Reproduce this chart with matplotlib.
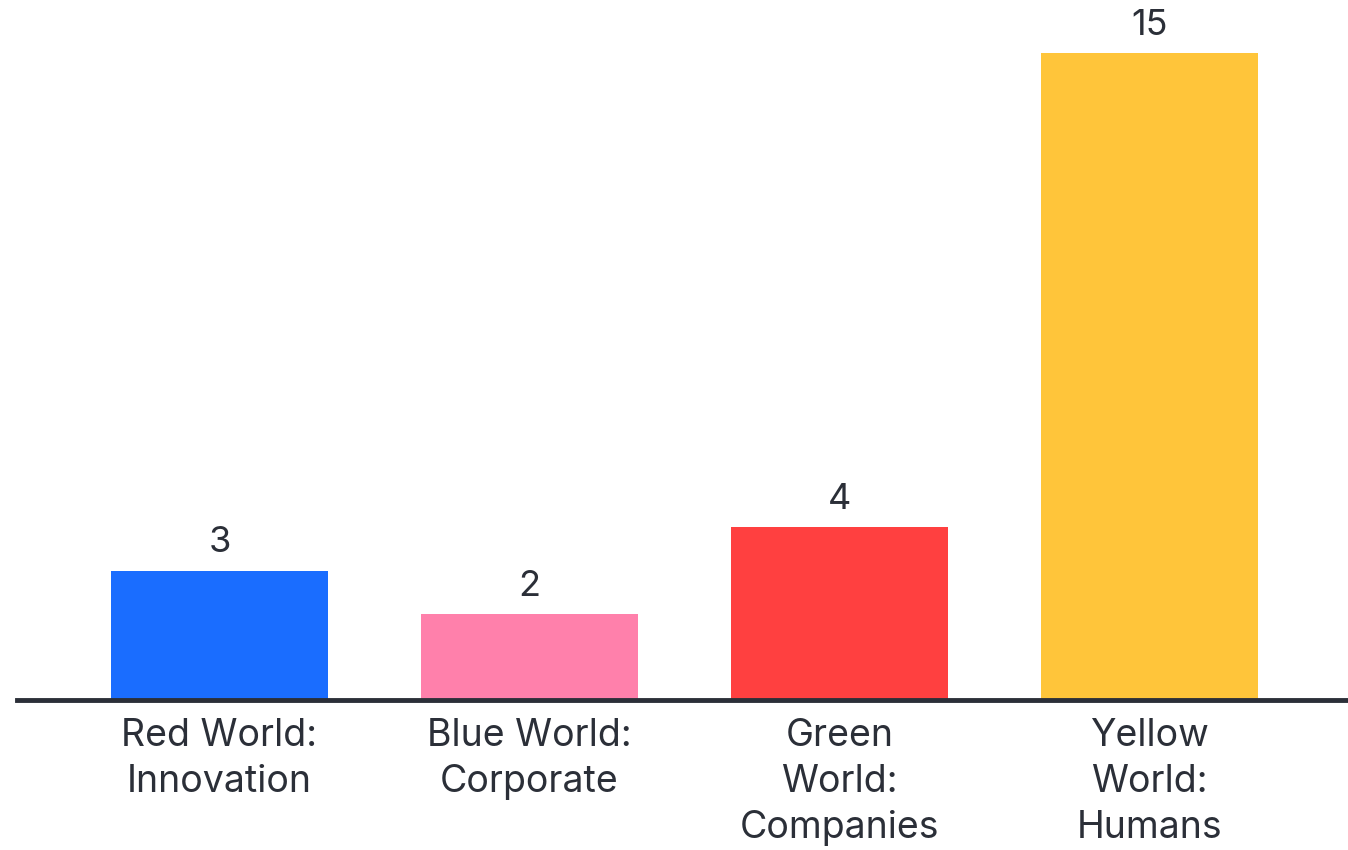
import matplotlib
matplotlib.use("Agg")
import matplotlib.pyplot as plt

categories = ["Red World:\nInnovation", "Blue World:\nCorporate", "Green\nWorld:\nCompanies", "Yellow\nWorld:\nHumans"]
values = [3, 2, 4, 15]
colors = ["#1A6DFF", "#FF80AB", "#FF4040", "#FFC53A"]

plt.rcParams['font.family'] = ['Inter', 'DejaVu Sans']
text_color = "#2B2F38"

fig = plt.figure(figsize=(13.48, 8.5), dpi=100)
ax = fig.add_axes([17/1348, 150/850, 1 - 17/1348, 700/850])
x = list(range(len(values)))
bars = ax.bar(x, values, width=0.7, color=colors)
ax.set_xlim(-0.653, 3.64)
ax.set_ylim(0, 16.22)

for xi, v in zip(x, values):
    ax.annotate(str(v), (xi, v), xytext=(0, 8), textcoords="offset points",
                ha="center", va="bottom", fontsize=26, color=text_color)

ax.set_xticks(x)
ax.set_xticklabels(categories, fontsize=27, color=text_color, linespacing=1.36)
ax.tick_params(axis="x", length=0, pad=13)
ax.set_yticks([])
for s in ["top", "right", "left"]:
    ax.spines[s].set_visible(False)
ax.spines["bottom"].set_color(text_color)
ax.spines["bottom"].set_linewidth(3.5)

fig.savefig("out.png", dpi=100)
